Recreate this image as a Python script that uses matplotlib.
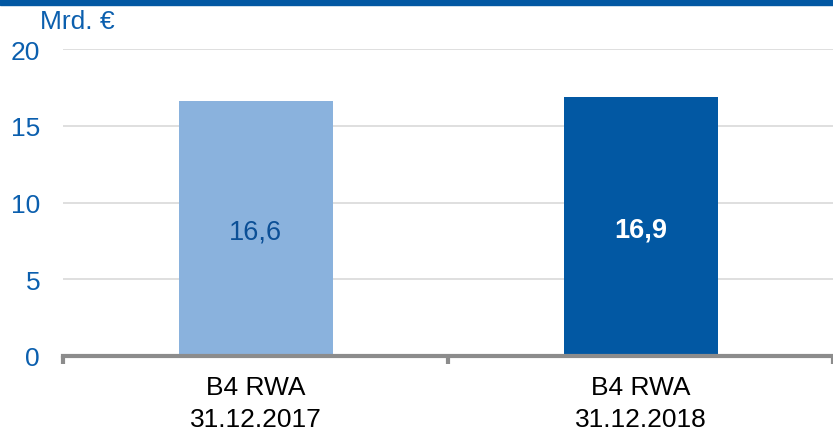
import matplotlib
matplotlib.use("Agg")
import matplotlib.pyplot as plt
from matplotlib.patches import Rectangle

categories = ["B4 RWA\n31.12.2017", "B4 RWA\n31.12.2018"]
values = [16.6, 16.9]
value_labels = ["16,6", "16,9"]
yticks = [0, 5, 10, 15, 20]

plt.rcParams['font.family'] = ['Liberation Sans', 'DejaVu Sans']

W, H = 833, 431
fig = plt.figure(figsize=(W/100, H/100), dpi=100)
ax = fig.add_axes([63/W, (H-357)/H, (W-63)/W, (357-50)/H])

bar_colors = ["#8AB2DD", "#0258A3"]
text_colors = ["#0B4F96", "white"]
text_weights = ["normal", "bold"]
x = list(range(len(categories)))
ax.bar(x, values, width=0.4, color=bar_colors, zorder=3)
for xi, v, lab, c, w in zip(x, values, value_labels, text_colors, text_weights):
    ax.text(xi, v/2 - 0.2, lab, ha='center', va='center', color=c, fontsize=19.5, fontweight=w, zorder=4)

ax.set_xlim(-0.5, 1.5)
ax.set_ylim(0, 20)
ax.set_yticks(yticks)
ax.set_yticklabels([str(t) for t in yticks], color="#0B5FAE", fontsize=19)
ax.tick_params(axis='y', length=0, pad=16.5)
ax.grid(axis='y', color="#D9D9D9", linewidth=1.2, zorder=0)

ax.set_xticks([-0.5, 0.5, 1.5], minor=False)
ax.set_xticklabels([])
ax.tick_params(axis='x', which='major', length=6, width=3, color="#8C8C8C", direction='out')
ax.set_xticks(x, minor=True)
ax.set_xticklabels(categories, minor=True, fontsize=19, color="black", linespacing=1.4)
ax.tick_params(axis='x', which='minor', length=0, pad=14)

for s in ['top', 'right', 'left']:
    ax.spines[s].set_visible(False)
ax.spines['bottom'].set_color("#8C8C8C")
ax.spines['bottom'].set_linewidth(3)
ax.spines['bottom'].set_zorder(5)

fig.text(40/W, (H-22)/H, "Mrd. €", color="#0B5FAE", fontsize=19, ha='left', va='center')
fig.add_artist(Rectangle((0, (H-6)/H), 1, 6/H, transform=fig.transFigure, color="#0258A3", clip_on=False))

fig.savefig("out.png", dpi=100)
